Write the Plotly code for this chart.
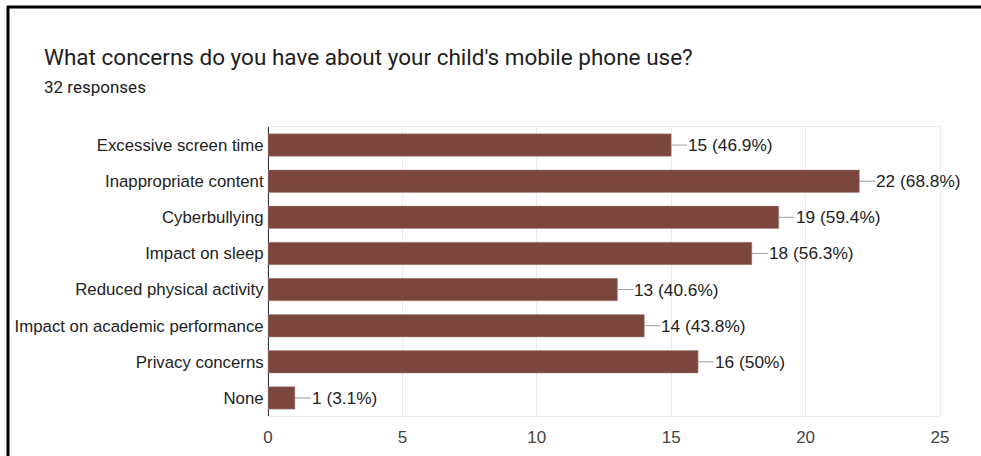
import plotly.graph_objects as go

# Survey responses
categories = [
    "Excessive screen time",
    "Inappropriate content",
    "Cyberbullying",
    "Impact on sleep",
    "Reduced physical activity",
    "Impact on academic performance",
    "Privacy concerns",
    "None",
]
counts = [15, 22, 19, 18, 13, 14, 16, 1]
percent_labels = ["46.9%", "68.8%", "59.4%", "56.3%", "40.6%", "43.8%", "50%", "3.1%"]
total_responses = 32
x_ticks = [0, 5, 10, 15, 20, 25]

title_text = "What concerns do you have about your child's mobile phone use?"
subtitle_text = f"{total_responses} responses"

W, H = 981, 456
ML, MR, MT, MB = 268, 41, 127, 40
PW, PH = W - ML - MR, H - MT - MB


def px_x(px):
    return (px - ML) / PW


def px_y(py):
    return 1 + (MT - py) / PH


bar_color = "#7a463d"
text_color = "#222222"
grid_color = "#ebebeb"
label_font = "Liberation Sans, Arial"

fig = go.Figure(
    go.Bar(
        x=counts,
        y=categories,
        orientation="h",
        marker=dict(color=bar_color, line=dict(color="#a98c86", width=0.5)),
        width=0.62,
        hoverinfo="skip",
    )
)

# value labels with leader lines
for cat, val, pct in zip(categories, counts, percent_labels):
    fig.add_annotation(
        x=val,
        y=cat,
        xref="x",
        yref="y",
        text=f"{val} ({pct})",
        showarrow=True,
        arrowhead=0,
        arrowwidth=1,
        arrowcolor="#9e9e9e",
        ax=16,
        ay=0,
        xanchor="left",
        borderpad=0,
        font=dict(family=label_font, size=17.3, color=text_color),
    )

# title and subtitle
fig.add_annotation(
    x=px_x(42), y=px_y(57), xref="paper", yref="paper",
    text=title_text, showarrow=False, xanchor="left", yanchor="middle",
    font=dict(family="Roboto", size=22.5, color="#212121"),
)
fig.add_annotation(
    x=px_x(42), y=px_y(87), xref="paper", yref="paper",
    text=subtitle_text, showarrow=False, xanchor="left", yanchor="middle",
    font=dict(family="Roboto", size=17, color="#212121"),
)

# outer frame (left and top edges)
fig.add_shape(
    type="line", xref="paper", yref="paper",
    x0=px_x(8), x1=px_x(8), y0=px_y(6), y1=px_y(470),
    line=dict(color="black", width=3),
)
fig.add_shape(
    type="line", xref="paper", yref="paper",
    x0=px_x(7), x1=px_x(990), y0=px_y(7), y1=px_y(7),
    line=dict(color="black", width=3),
)

fig.update_xaxes(
    range=[0, 25],
    tickvals=x_ticks,
    showgrid=True,
    gridcolor=grid_color,
    gridwidth=1,
    showline=True,
    linecolor=grid_color,
    mirror=True,
    zeroline=True,
    zerolinecolor="#333333",
    zerolinewidth=1,
    ticks="",
    ticklabelstandoff=6,
    tickfont=dict(family=label_font, size=17, color="#444444"),
    fixedrange=True,
)
fig.update_yaxes(
    categoryorder="array",
    categoryarray=categories[::-1],
    showgrid=False,
    showline=True,
    linecolor=grid_color,
    mirror=True,
    ticks="",
    ticklabelstandoff=0,
    tickfont=dict(family=label_font, size=16.8, color=text_color),
    fixedrange=True,
)

fig.update_layout(
    width=W,
    height=H,
    margin=dict(l=ML, r=MR, t=MT, b=MB, autoexpand=False),
    paper_bgcolor="white",
    plot_bgcolor="white",
    showlegend=False,
    bargap=0.38,
)

fig.write_html("out.html", config={"displayModeBar": False})
